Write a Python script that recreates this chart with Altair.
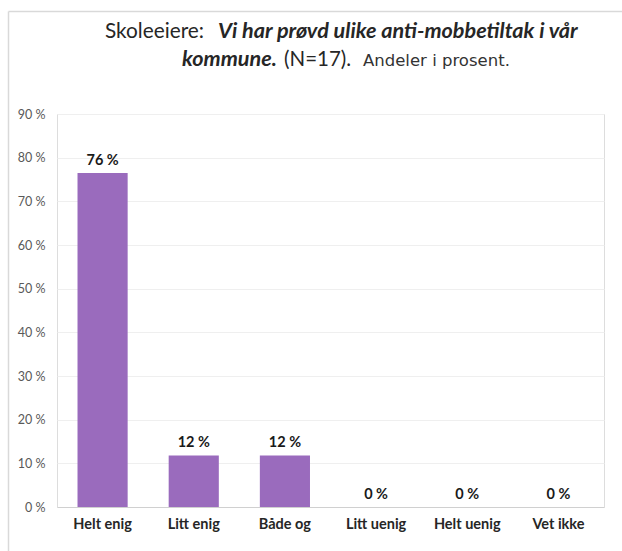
import altair as alt
import pandas as pd

categories = ["Helt enig", "Litt enig", "Både og", "Litt uenig", "Helt uenig", "Vet ikke"]
values = [76.5, 11.8, 11.8, 0, 0, 0]
labels = ["76 %", "12 %", "12 %", "0 %", "0 %", "0 %"]

FONT = "Lato"
df = pd.DataFrame({"cat": categories, "val": values, "lab": labels})

W, H = 547, 393
L, T = 57, 114

xenc = alt.X("cat:N", sort=categories, title=None,
             scale=alt.Scale(paddingInner=0.45, paddingOuter=0.225),
             axis=alt.Axis(labelAngle=0, labelFont=FONT, labelFontSize=14.5, labelFontWeight="bold",
                           labelColor="#262626", labelPadding=10, ticks=False, domain=True,
                           domainColor="#d0d0d0", domainWidth=1.2))
yenc = alt.Y("val:Q", title=None,
             scale=alt.Scale(domain=[0, 90]),
             axis=alt.Axis(values=list(range(0, 91, 10)), labelExpr="datum.value + ' %'",
                           labelFont=FONT, labelFontSize=12.5, labelColor="#595959", labelPadding=12,
                           ticks=False, domain=False, grid=True, gridColor="#efefef", gridWidth=1))

bars = alt.Chart(df).mark_bar(color="#9a6bbd").encode(x=xenc, y=yenc)
text = alt.Chart(df).mark_text(font=FONT, fontSize=14.5, fontWeight="bold", color="#1a1a1a",
                               baseline="bottom", dy=-5).encode(
    x=alt.X("cat:N", sort=categories), y="val:Q", text="lab:N")

def seg(s, x, y, size, weight="normal", style="normal", color="#262626", font=FONT):
    return alt.Chart(pd.DataFrame({"t": [s]})).mark_text(
        font=font, fontSize=size, fontWeight=weight, fontStyle=style, color=color,
        align="left", baseline="middle").encode(
        x=alt.value(x - L), y=alt.value(y - T), text="t:N")

title_parts = [
    seg("Skoleeiere:", 105, 32, 20.8),
    seg("Vi har prøvd ulike anti-mobbetiltak i vår", 218, 32, 21.6, "bold", "italic"),
    seg("kommune.", 182, 60, 21.6, "bold", "italic"),
    seg("(N=17).", 284, 60, 20.5),
    seg("Andeler i prosent.", 363, 61, 16.5, font="DejaVu Sans", color="#333333"),
]

border_top = alt.Chart(df.head(1)).mark_rule(color="#d9d9d9", strokeWidth=1.5).encode(
    x=alt.value(8.5 - L), x2=alt.value(622 - L), y=alt.value(11.5 - T))
border_left = alt.Chart(df.head(1)).mark_rule(color="#d9d9d9", strokeWidth=1.5).encode(
    x=alt.value(8.5 - L), y=alt.value(11.5 - T), y2=alt.value(551 - T))

chart = alt.layer(bars, text, border_top, border_left, *title_parts).properties(
    width=W, height=H,
    autosize=alt.AutoSizeParams(type="none"),
    padding={"left": L, "top": T, "right": 622 - L - W, "bottom": 551 - T - H},
).configure_view(stroke=None).configure(background="white")

chart.save("out.html", embed_options={"renderer": "svg", "actions": False})
